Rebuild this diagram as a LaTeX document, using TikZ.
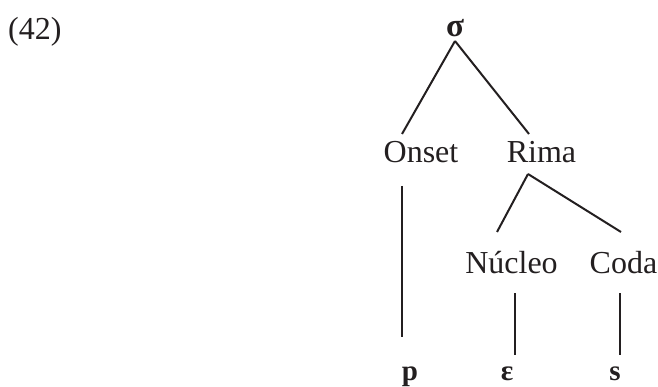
\documentclass[tikz,border=0pt]{standalone}
\usepackage{fontspec}
\setmainfont{Liberation Serif}
\usetikzlibrary{calc}
\definecolor{ink}{HTML}{231F20}
\begin{document}
\begin{tikzpicture}[x=1pt,y=-1pt,
  word/.style={anchor=base,inner sep=0pt,text=ink,font=\fontsize{32}{38}\selectfont},
  seg/.style={anchor=base,inner sep=0pt,text=ink,font=\fontsize{29}{34}\selectfont\bfseries},
  branch/.style={draw=ink,line width=2pt}]
  \useasboundingbox (0,0) rectangle (658,387);

  % example number
  \node[word,anchor=base west] (num) at (8,40) {(42)};

  % syllable tree
  \node[word,font=\fontsize{33}{38}\selectfont\bfseries] (sigma) at (455,37) {σ};
  \node[word] (onset)  at (421,163)   {Onset};
  \node[word] (rima)   at (541.5,163) {Rima};
  \node[word] (nucleo) at (511.5,273) {Núcleo};
  \node[word] (coda)   at (623.5,273) {Coda};

  % segments
  \node[seg] (p)   at (410,380) {p};
  \node[seg] (eps) at (507,380) {ɛ};
  \node[seg] (s)   at (615,380) {s};

  % branches
  \draw[branch] ($(sigma.base)+(0,4)$) -- ($(onset.base)+(-19,-29)$);
  \draw[branch] ($(sigma.base)+(0,4)$) -- ($(rima.base)+(-12.5,-29)$);
  \draw[branch] ($(rima.base)+(-13.5,11)$) -- ($(nucleo.base)+(-14.5,-41)$);
  \draw[branch] ($(rima.base)+(-13.5,11)$) -- ($(coda.base)+(-2.5,-41)$);
  \draw[branch] ($(onset.base)+(-19,23)$) -- ($(p.base)+(-8,-43)$);
  \draw[branch] ($(nucleo.base)+(3.5,20)$) -- ($(eps.base)+(8,-25)$);
  \draw[branch] ($(coda.base)+(-3.5,20)$) -- ($(s.base)+(5,-25)$);
\end{tikzpicture}
\end{document}
